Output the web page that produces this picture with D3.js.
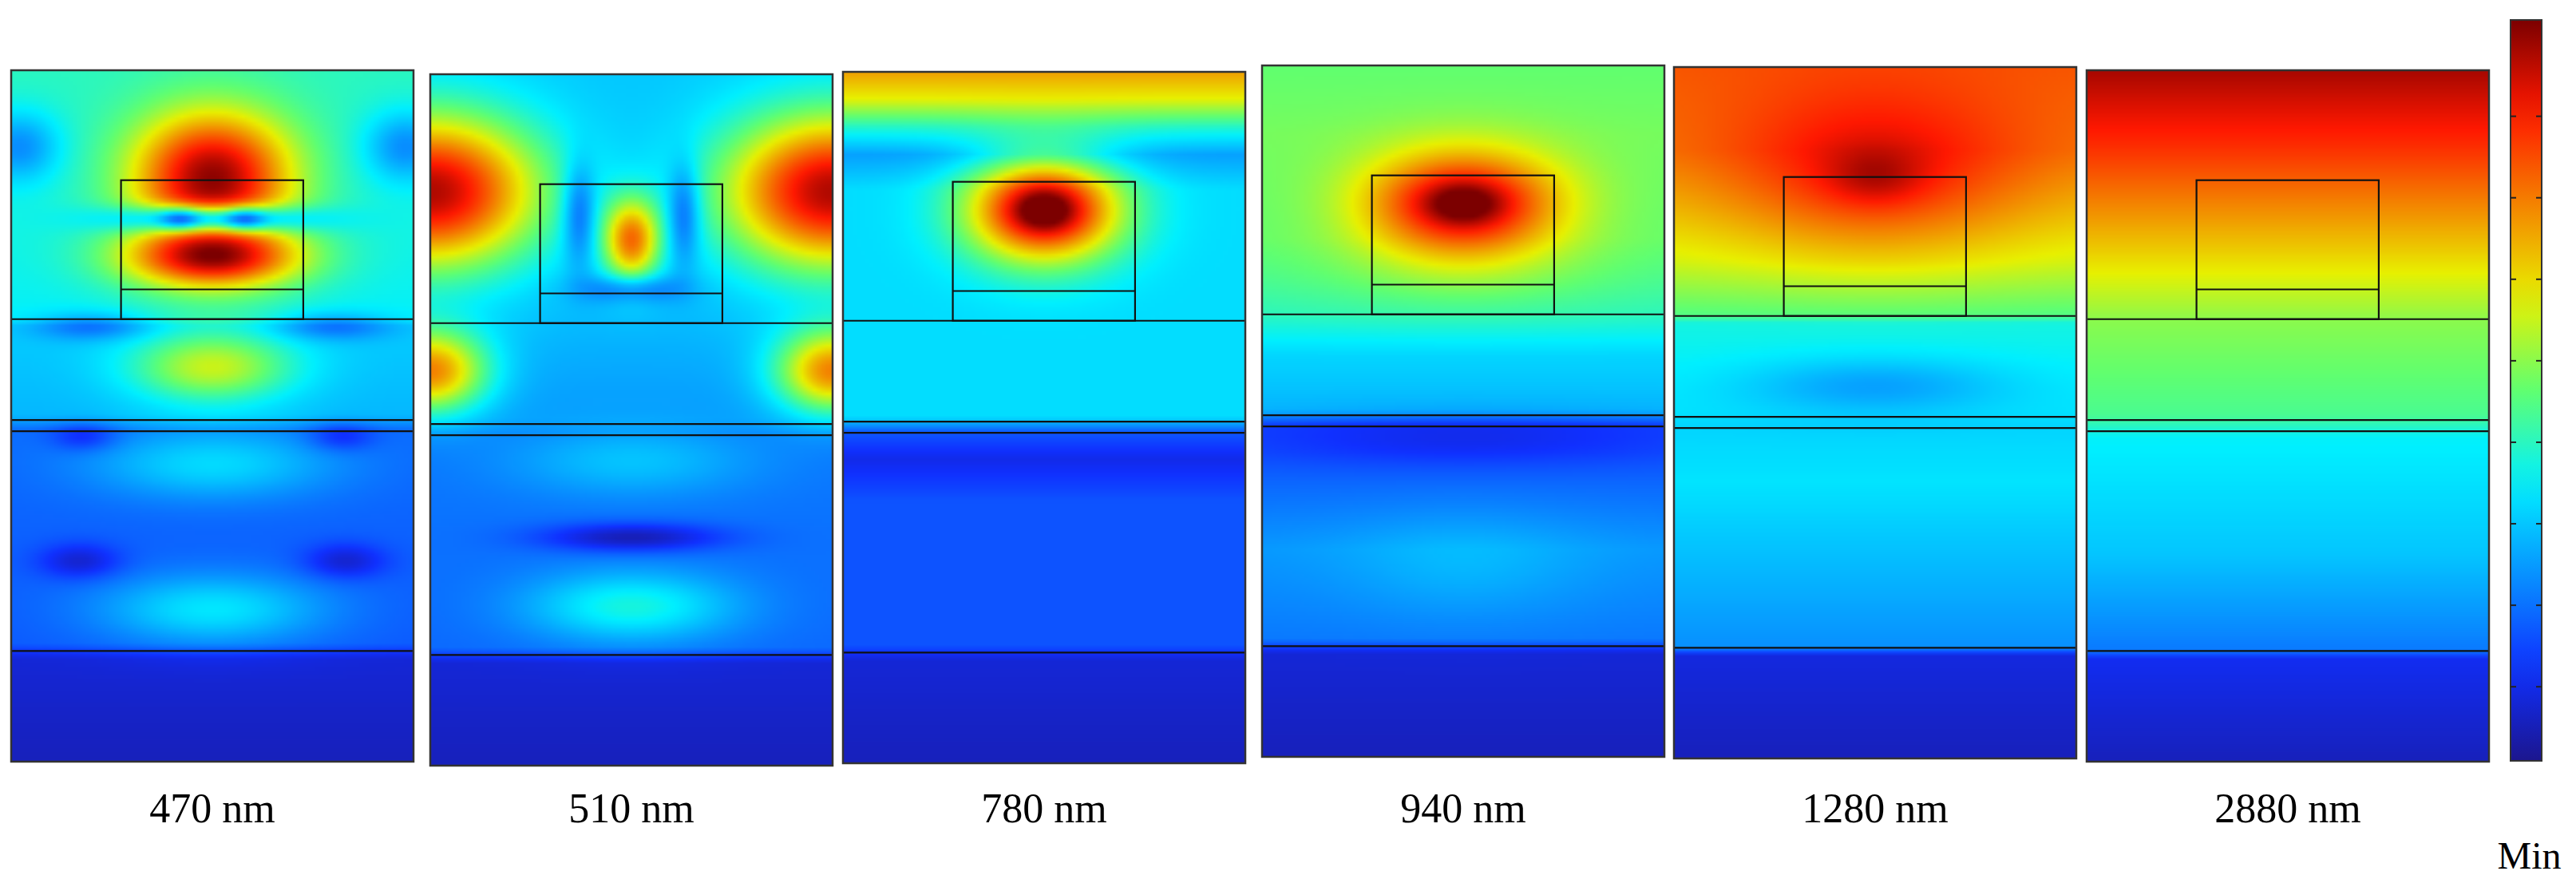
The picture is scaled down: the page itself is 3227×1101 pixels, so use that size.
<!DOCTYPE html>
<html><head><meta charset="utf-8">
<script src="https://cdn.jsdelivr.net/npm/d3@7"></script>
<style>body{margin:0;background:#fff}</style></head>
<body>
<script>
var W = 3227, H = 1101;

// panel labels and frame positions (px)
var labels = ["470 nm", "510 nm", "780 nm", "940 nm", "1280 nm", "2880 nm"];
var panelX = [14, 539, 1056, 1581, 2097, 2614];
var panelY = [88, 93, 90, 82, 84, 88];
var panelW = 504, panelH = 866;

// layer interfaces (fraction of panel height) and the grating block
var layerLines = [0.36, 0.506, 0.522, 0.84];
var block = {x0: 0.273, x1: 0.726, y0: 0.159, y1: 0.317};

// vertical background profile per panel: [y, value]
var profiles = [
  [[0,0.43],[0.36,0.38],[0.37,0.33],[0.5,0.3],[0.52,0.2],[0.83,0.18],[0.85,0.08],[1,0.05]],
  [[0,0.32],[0.36,0.3],[0.37,0.3],[0.5,0.26],[0.52,0.22],[0.83,0.2],[0.85,0.08],[1,0.05]],
  [[0,0.72],[0.04,0.62],[0.08,0.42],[0.12,0.27],[0.17,0.35],[0.36,0.35],[0.5,0.35],[0.52,0.18],[0.56,0.1],[0.62,0.17],[0.83,0.17],[0.85,0.08],[1,0.05]],
  [[0,0.5],[0.1,0.52],[0.25,0.5],[0.36,0.43],[0.42,0.34],[0.5,0.3],[0.52,0.16],[0.56,0.17],[0.7,0.26],[0.83,0.22],[0.85,0.08],[1,0.05]],
  [[0,0.8],[0.12,0.76],[0.28,0.6],[0.36,0.48],[0.37,0.4],[0.5,0.36],[0.52,0.34],[0.6,0.36],[0.84,0.25],[0.85,0.09],[1,0.05]],
  [[0,0.96],[0.12,0.84],[0.25,0.68],[0.36,0.54],[0.5,0.47],[0.53,0.38],[0.7,0.32],[0.84,0.22],[0.85,0.11],[1,0.05]]
];

// local hot / cold spots per panel: [cx, cy, rx, ry, amplitude]
var spots = [
  [[0.5,0.15,0.2,0.09,0.55],[0.5,0.26,0.22,0.07,0.25],[0.5,0.275,0.22,0.035,0.28],
   [0.5,0.215,0.22,0.02,-0.5],[0.42,0.215,0.05,0.015,-0.2],[0.58,0.215,0.05,0.015,-0.2],
   [0.02,0.11,0.1,0.05,-0.17],[0.98,0.11,0.1,0.05,-0.17],
   [0.5,0.43,0.2,0.05,0.28],[0.2,0.37,0.14,0.02,-0.13],[0.8,0.37,0.14,0.02,-0.13],
   [0.5,0.57,0.3,0.05,0.15],[0.18,0.53,0.08,0.02,-0.1],[0.82,0.53,0.08,0.02,-0.1],
   [0.17,0.71,0.1,0.025,-0.12],[0.83,0.71,0.1,0.025,-0.12],[0.5,0.78,0.28,0.05,0.18]],
  [[0.0,0.17,0.27,0.11,0.64],[1.0,0.17,0.27,0.11,0.64],
   [0.5,0.24,0.07,0.06,0.45],[0.37,0.2,0.04,0.07,-0.18],[0.63,0.2,0.04,0.07,-0.18],
   [0.5,0.31,0.12,0.02,-0.15],
   [0.0,0.43,0.14,0.06,0.47],[1.0,0.43,0.14,0.06,0.47],
   [0.5,0.56,0.3,0.05,0.1],[0.5,0.67,0.22,0.02,-0.17],[0.5,0.77,0.26,0.05,0.2]],
  [[0.5,0.2,0.19,0.075,0.62],[0.5,0.2,0.08,0.03,0.12]],
  [[0.5,0.2,0.24,0.075,0.44],[0.5,0.2,0.1,0.03,0.12],[0.5,0.3,0.4,0.06,0.05],
   [0.5,0.54,0.5,0.04,-0.06],[0.5,0.72,0.3,0.08,0.05]],
  [[0.5,0.16,0.36,0.12,0.16],[0.5,0.16,0.12,0.04,0.08],[0.5,0.46,0.32,0.04,-0.1]],
  []
];

// colour bar tick positions (fraction of bar height)
var barTicks = [0.13, 0.24, 0.35, 0.46, 0.57, 0.68, 0.79, 0.9];

var jet = d3.scaleLinear()
  .domain([0, 0.125, 0.375, 0.5, 0.625, 0.875, 1])
  .range(["#1c168e", "#1030ff", "#00f0ff", "#60ff70", "#e8f000", "#ff1800", "#7c0000"])
  .clamp(true);

function field(i, x, y) {
  var p = profiles[i];
  var prof = d3.scaleLinear().domain(p.map(function(d){return d[0];})).range(p.map(function(d){return d[1];}));
  var v = prof(y);
  spots[i].forEach(function(s) {
    var dx = (x - s[0]) / s[2], dy = (y - s[1]) / s[3];
    v += s[4] * Math.exp(-(dx*dx + dy*dy));
  });
  return Math.max(0, Math.min(1, v));
}

function panelImage(i) {
  var cw = 100, ch = 172;
  var c = document.createElement("canvas");
  c.width = cw; c.height = ch;
  var ctx = c.getContext("2d");
  var img = ctx.createImageData(cw, ch);
  for (var r = 0; r < ch; r++) {
    for (var q = 0; q < cw; q++) {
      var col = d3.rgb(jet(field(i, (q + 0.5) / cw, (r + 0.5) / ch)));
      var k = (r * cw + q) * 4;
      img.data[k] = col.r; img.data[k+1] = col.g; img.data[k+2] = col.b; img.data[k+3] = 255;
    }
  }
  ctx.putImageData(img, 0, 0);
  return c.toDataURL();
}

var svg = d3.select("body").append("svg").attr("width", W).attr("height", H);

labels.forEach(function(lab, i) {
  var g = svg.append("g").attr("transform", "translate(" + panelX[i] + "," + panelY[i] + ")");
  var xs = d3.scaleLinear().domain([0, 1]).range([0, panelW]);
  var ys = d3.scaleLinear().domain([0, 1]).range([0, panelH]);
  g.append("image").attr("href", panelImage(i))
    .attr("width", panelW).attr("height", panelH)
    .attr("preserveAspectRatio", "none");
  g.selectAll("line.layer").data(layerLines).enter().append("line")
    .attr("x1", 0).attr("x2", panelW)
    .attr("y1", ys).attr("y2", ys)
    .attr("stroke", "#111").attr("stroke-width", 2.2);
  g.append("rect")
    .attr("x", xs(block.x0)).attr("y", ys(block.y0))
    .attr("width", xs(block.x1) - xs(block.x0)).attr("height", ys(layerLines[0]) - ys(block.y0))
    .attr("fill", "none").attr("stroke", "#111").attr("stroke-width", 2.2);
  g.append("line")
    .attr("x1", xs(block.x0)).attr("x2", xs(block.x1))
    .attr("y1", ys(block.y1)).attr("y2", ys(block.y1))
    .attr("stroke", "#111").attr("stroke-width", 2.2);
  g.append("rect").attr("width", panelW).attr("height", panelH)
    .attr("fill", "none").attr("stroke", "#333").attr("stroke-width", 2.5);
  svg.append("text")
    .attr("x", panelX[i] + panelW / 2).attr("y", 1030)
    .attr("text-anchor", "middle")
    .style("font-family", "Liberation Serif, serif").style("font-size", "52px")
    .text(lab);
});

// colour bar
var barX = 3145, barY = 25, barW = 39, barH = 928;
var defs = svg.append("defs");
var grad = defs.append("linearGradient").attr("id", "jetbar")
  .attr("x1", 0).attr("y1", 1).attr("x2", 0).attr("y2", 0);
d3.range(0, 1.0001, 0.05).forEach(function(t) {
  grad.append("stop").attr("offset", t).attr("stop-color", jet(t));
});
svg.append("rect").attr("x", barX).attr("y", barY).attr("width", barW).attr("height", barH)
  .attr("fill", "url(#jetbar)").attr("stroke", "#333").attr("stroke-width", 2);
var by = d3.scaleLinear().domain([0, 1]).range([barY, barY + barH]);
barTicks.forEach(function(t) {
  svg.append("line").attr("x1", barX).attr("x2", barX + 7).attr("y1", by(t)).attr("y2", by(t))
    .attr("stroke", "#222").attr("stroke-width", 2);
  svg.append("line").attr("x1", barX + barW - 7).attr("x2", barX + barW).attr("y1", by(t)).attr("y2", by(t))
    .attr("stroke", "#222").attr("stroke-width", 2);
});
svg.append("text").attr("x", barX + barW / 2 + 4).attr("y", 1088)
  .attr("text-anchor", "middle")
  .style("font-family", "Liberation Serif, serif").style("font-size", "48px")
  .text("Min");
</script>
</body></html>
